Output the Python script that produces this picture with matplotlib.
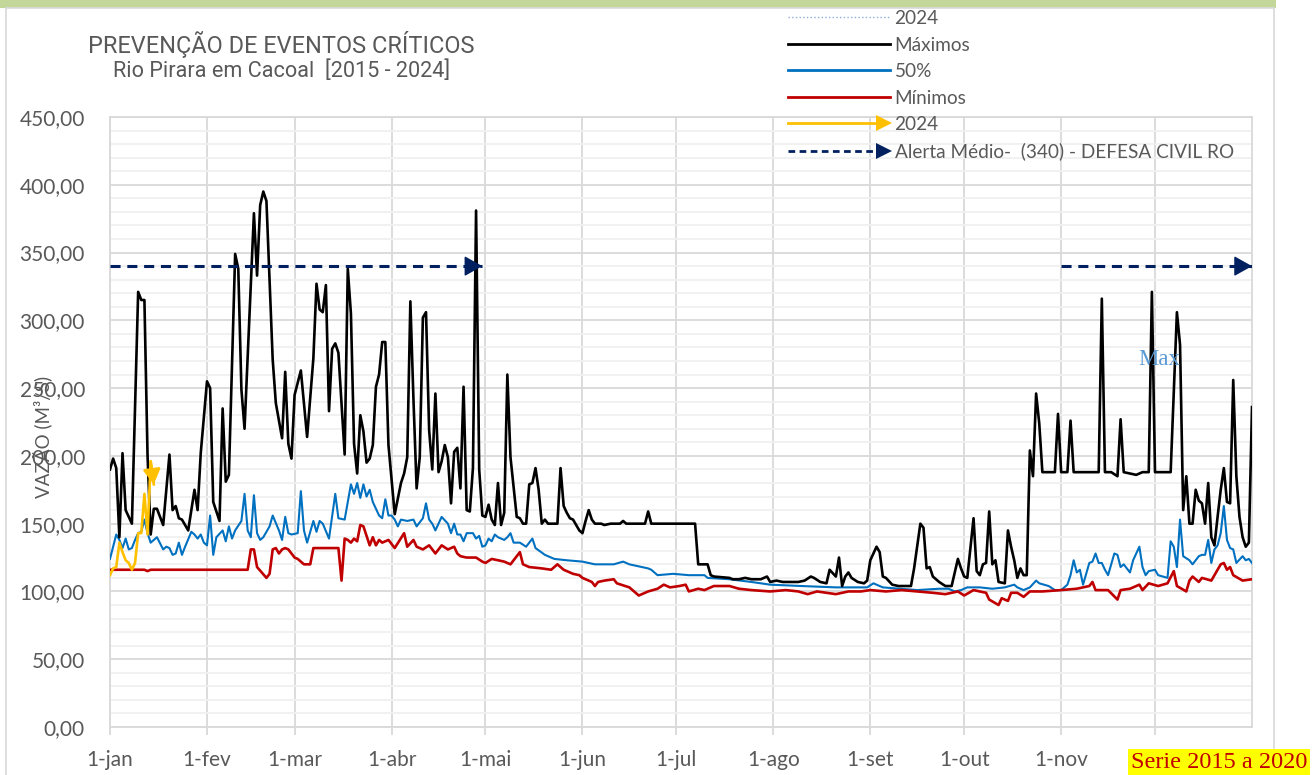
import matplotlib
matplotlib.use("Agg")
import matplotlib.pyplot as plt
from matplotlib.lines import Line2D
from matplotlib.legend_handler import HandlerBase
from matplotlib.patches import Rectangle
from matplotlib.ticker import FuncFormatter

plt.rcParams['font.family'] = ['Lato', 'DejaVu Sans']

# day of year (0 = 1-jan) and flow values
max_days = [0, 1, 2, 3, 4, 5, 7, 9, 10, 11, 12, 13, 14, 15, 17, 19, 20, 21, 22, 23, 25, 27, 28, 29,
            31, 32, 33, 35, 36, 37, 38, 40, 41, 42, 43, 46, 47, 48, 49, 50, 52, 53, 55, 56, 57, 58,
            59, 61, 63, 65, 66, 67, 68, 69, 70, 71, 72, 73, 75, 76, 77, 78, 79, 80, 81, 82, 83, 84,
            85, 86, 87, 88, 89, 91, 93, 94, 95, 96, 97, 98, 99, 100, 101, 102, 103, 104, 105, 106,
            107, 108, 109, 110, 111, 112, 113, 114, 115, 116, 117, 118, 119, 120, 121, 122, 123,
            124, 125, 126, 127, 128, 130, 131, 132, 133, 134, 135, 136, 137, 138, 139, 140, 143,
            144, 145, 146, 147, 148, 150, 151, 152, 153, 154, 155, 157, 158, 160, 163, 164, 165,
            171, 172, 173, 187, 188, 191, 192, 193, 198, 199, 201, 203, 205, 208, 210, 211, 213,
            215, 220, 222, 224, 225, 227, 229, 230, 232, 233, 234, 235, 236, 237, 239, 241, 242,
            243, 245, 246, 247, 248, 250, 252, 254, 256, 257, 259, 260, 261, 262, 263, 265, 267,
            269, 271, 272, 273, 274, 276, 277, 278, 279, 280, 281, 282, 283, 284, 286, 287, 288,
            289, 290, 291, 292, 293, 294, 295, 296, 297, 298, 302, 303, 304, 306, 307, 308, 316,
            317, 318, 320, 322, 323, 324, 326, 328, 330, 332, 333, 334, 339, 341, 342, 343, 344,
            345, 346, 347, 348, 349, 350, 351, 352, 353, 354, 355, 356, 357, 358, 359, 360, 361,
            362, 363, 364, 365]
max_vals = [190, 198, 191, 140, 202, 160, 150, 321, 315, 315, 200, 142, 161, 161, 149, 201, 160,
            163, 154, 153, 145, 175, 160, 202, 255, 250, 166, 152, 235, 181, 186, 349, 338, 249,
            220, 379, 333, 385, 395, 388, 271, 239, 213, 262, 209, 198, 245, 263, 214, 272, 327,
            308, 306, 326, 233, 279, 283, 276, 201, 338, 305, 209, 187, 230, 218, 195, 198, 208,
            251, 260, 284, 284, 208, 157, 180, 187, 199, 314, 241, 176, 199, 302, 306, 219, 190,
            246, 188, 196, 208, 199, 165, 203, 206, 176, 251, 160, 159, 191, 381, 190, 156, 155,
            164, 153, 149, 180, 149, 158, 260, 199, 155, 154, 150, 150, 179, 180, 191, 175, 150,
            153, 150, 150, 191, 163, 158, 154, 153, 145, 143, 152, 160, 153, 150, 150, 149, 150,
            150, 152, 150, 150, 159, 150, 150, 120, 120, 112, 111, 110, 109, 109, 110, 109, 109,
            111, 107, 108, 107, 107, 108, 111, 110, 107, 106, 116, 111, 125, 104, 111, 114, 110,
            107, 106, 108, 123, 133, 129, 111, 110, 105, 104, 104, 104, 117, 150, 147, 117, 118,
            111, 107, 104, 104, 124, 117, 111, 110, 154, 115, 112, 120, 121, 159, 120, 123, 107,
            106, 145, 133, 123, 110, 117, 112, 112, 204, 185, 246, 224, 188, 188, 231, 188, 188,
            226, 188, 188, 316, 188, 188, 185, 227, 188, 187, 186, 188, 188, 321, 188, 188, 306,
            282, 160, 185, 150, 150, 175, 167, 165, 150, 180, 140, 134, 155, 175, 191, 166, 165,
            256, 185, 155, 140, 133, 136, 236]

p50_days = [0, 1, 2, 3, 4, 5, 6, 7, 8, 9, 10, 11, 12, 13, 14, 15, 17, 18, 19, 20, 21, 22, 23, 24,
            26, 27, 28, 29, 30, 31, 32, 33, 34, 36, 37, 38, 39, 40, 42, 43, 44, 45, 46, 47, 48, 49,
            51, 52, 54, 55, 56, 57, 58, 60, 61, 62, 63, 65, 66, 67, 68, 70, 72, 73, 75, 77, 78, 79,
            80, 81, 82, 83, 84, 86, 87, 88, 89, 90, 91, 92, 93, 95, 97, 98, 100, 101, 102, 103, 104,
            105, 106, 108, 109, 110, 111, 112, 113, 114, 116, 117, 118, 119, 120, 121, 122, 123,
            124, 126, 127, 128, 129, 131, 133, 135, 136, 139, 142, 146, 151, 155, 161, 164, 166,
            172, 173, 175, 180, 185, 190, 191, 198, 205, 211, 221, 232, 242, 244, 247, 258, 265,
            268, 270, 272, 274, 278, 282, 286, 289, 290, 292, 294, 296, 297, 300, 302, 304, 306,
            307, 308, 309, 310, 311, 313, 314, 315, 316, 317, 318, 319, 321, 322, 323, 324, 326,
            327, 329, 330, 331, 332, 334, 335, 338, 339, 340, 341, 342, 343, 345, 346, 348, 349,
            350, 351, 352, 353, 354, 355, 356, 357, 358, 359, 360, 362, 363, 364, 365]
p50_vals = [124, 133, 142, 138, 132, 139, 131, 132, 138, 143, 144, 153, 143, 136, 138, 140, 131,
            133, 132, 127, 128, 136, 127, 133, 144, 142, 139, 142, 136, 134, 156, 127, 140, 145,
            137, 148, 139, 145, 152, 172, 145, 140, 171, 143, 138, 140, 148, 156, 145, 138, 155,
            143, 142, 143, 174, 145, 136, 152, 144, 152, 150, 139, 172, 154, 153, 179, 172, 180,
            169, 179, 170, 175, 166, 156, 154, 168, 156, 156, 153, 148, 153, 152, 153, 148, 154,
            165, 153, 150, 145, 150, 155, 150, 143, 150, 142, 142, 137, 143, 143, 139, 141, 133,
            134, 139, 137, 142, 140, 138, 140, 143, 136, 136, 133, 139, 132, 127, 124, 123, 122,
            120, 120, 122, 120, 117, 116, 112, 113, 112, 112, 110, 109, 107, 105, 104, 103, 103,
            106, 103, 101, 102, 102, 100, 101, 103, 103, 102, 103, 105, 103, 101, 103, 108, 106,
            104, 101, 101, 105, 112, 123, 114, 116, 105, 121, 122, 128, 121, 121, 116, 112, 128,
            127, 118, 120, 114, 123, 133, 118, 112, 115, 116, 112, 110, 137, 133, 118, 153, 126,
            123, 120, 126, 127, 127, 138, 121, 131, 134, 143, 163, 138, 132, 131, 121, 126, 123,
            124, 121]

min_days = [0, 11, 12, 13, 44, 45, 46, 47, 50, 51, 52, 53, 54, 55, 56, 57, 59, 60, 62, 64, 65, 73,
            74, 75, 76, 77, 78, 79, 80, 81, 83, 84, 85, 86, 87, 89, 91, 94, 95, 97, 98, 100, 102,
            104, 106, 108, 110, 111, 112, 114, 117, 119, 120, 122, 126, 128, 131, 132, 134, 138,
            141, 143, 145, 148, 150, 151, 154, 155, 156, 158, 161, 162, 166, 168, 169, 172, 175,
            177, 179, 182, 184, 185, 188, 190, 193, 198, 201, 205, 211, 216, 220, 223, 226, 232,
            236, 240, 243, 248, 253, 258, 263, 267, 271, 273, 276, 280, 281, 284, 285, 287, 288,
            290, 292, 294, 298, 304, 309, 313, 314, 315, 319, 322, 323, 326, 329, 330, 332, 335,
            338, 340, 341, 344, 345, 346, 348, 349, 352, 354, 355, 356, 357, 358, 359, 362, 365]
min_vals = [116, 116, 115, 116, 116, 131, 131, 118, 110, 113, 131, 132, 128, 131, 132, 131, 125,
            124, 120, 120, 132, 132, 108, 139, 138, 136, 139, 137, 149, 148, 134, 140, 134, 138,
            136, 138, 132, 143, 133, 138, 133, 131, 134, 128, 134, 131, 133, 128, 126, 125, 125,
            122, 121, 124, 122, 120, 129, 120, 118, 117, 116, 120, 116, 113, 112, 110, 107, 104,
            107, 108, 109, 106, 103, 99, 97, 100, 102, 105, 103, 104, 105, 100, 102, 101, 104, 104,
            102, 101, 100, 101, 100, 98, 100, 98, 100, 100, 101, 100, 101, 100, 99, 98, 100, 97,
            101, 99, 94, 90, 95, 93, 99, 99, 96, 100, 100, 101, 102, 104, 107, 101, 101, 94, 101,
            102, 105, 101, 106, 104, 106, 115, 104, 100, 108, 111, 107, 110, 108, 116, 120, 121,
            116, 118, 112, 108, 109]

y2024_days = [0, 1, 2, 3, 4, 5, 6, 7, 8, 9, 10, 11, 12, 13, 14]
y2024_vals = [112, 117, 118, 136, 129, 123, 121, 116, 121, 143, 143, 172, 142, 196, 179]

alert_level = 340
alert_spans = [(0, 119), (304, 365)]

month_days = [0, 31, 59, 90, 120, 151, 181, 212, 243, 273, 304, 334]
# the 1-dez label is hidden behind the "Serie" box in the original
month_labels = ['1-jan', '1-fev', '1-mar', '1-abr', '1-mai', '1-jun', '1-jul', '1-ago',
                '1-set', '1-out', '1-nov', '']

navy = '#002060'
gray_txt = '#595959'

fig = plt.figure(figsize=(13.15, 7.75), dpi=100)
W, H = 1315, 775
ax = fig.add_axes([110 / W, 48 / H, (1252 - 110) / W, (727 - 117) / H])

# frame and green bar of the original sheet
fig.patches.append(Rectangle((0, 1 - 8 / H), 1276 / W, 8 / H, transform=fig.transFigure,
                             facecolor='#C4D79B', edgecolor='none'))
fig.patches.append(Rectangle((6 / W, -0.01), (1274 - 6) / W, 1.01 - 8 / H, transform=fig.transFigure,
                             fill=False, edgecolor='#D9D9D9', lw=1.2))

ax.plot(max_days, max_vals, color='black', lw=1.9, zorder=4)
ax.plot(p50_days, p50_vals, color='#0070C0', lw=1.5, zorder=3)
ax.plot(min_days, min_vals, color='#C00000', lw=1.9, zorder=3)
ax.plot(y2024_days, y2024_vals, color='#FFC000', lw=1.9, zorder=5)
ax.annotate('', xy=(y2024_days[-1], y2024_vals[-1]), xytext=(y2024_days[-2], y2024_vals[-2]),
            arrowprops=dict(arrowstyle='-|>,head_length=0.6,head_width=0.35', color='#FFC000',
                            lw=1.9, shrinkA=0, shrinkB=0, mutation_scale=15), zorder=5)

for s, e in alert_spans:
    ax.plot([s, e], [alert_level, alert_level], color=navy, lw=2.2, dashes=(3.3, 2.2), zorder=6)
    ax.annotate('', xy=(e, alert_level), xytext=(e - 0.5, alert_level),
                arrowprops=dict(arrowstyle='-|>,head_length=0.75,head_width=0.42', color=navy,
                                lw=1, shrinkA=0, shrinkB=0, mutation_scale=15),
                zorder=6, annotation_clip=False)

ax.text(335.5, 271, 'Max', ha='center', va='center', fontsize=16.5, color='#5B9BD5',
        family='Liberation Serif', zorder=7)

ax.set_xlim(0, 365)
ax.set_ylim(0, 450)
ax.set_yticks(range(0, 451, 50))
ax.set_yticks(range(0, 451, 10), minor=True)
ax.yaxis.set_major_formatter(FuncFormatter(lambda v, p: f'{v:.2f}'.replace('.', ',')))
ax.set_xticks(month_days)
ax.set_xticklabels(month_labels)
ax.grid(which='major', axis='both', color='#D9D9D9', lw=1.3)
ax.grid(which='minor', axis='y', color='#F0F0F0', lw=1.3)
ax.set_axisbelow(True)
ax.tick_params(axis='y', which='both', length=0, pad=18, labelsize=15, labelcolor=gray_txt)
ax.tick_params(axis='x', length=6, width=1.3, color='#D9D9D9', pad=10.5, labelsize=15,
               labelcolor=gray_txt)
for sp in ax.spines.values():
    sp.set_color('#D9D9D9')
    sp.set_linewidth(1.3)

ax.text(42 / W, 1 - 437 / H, 'VAZÃO (M³/S)', transform=fig.transFigure, rotation=90,
        ha='center', va='center', fontsize=13.5, color=gray_txt, zorder=0.1, clip_on=False)

fig.text(281 / W, 1 - 45 / H, 'PREVENÇÃO DE EVENTOS CRÍTICOS', ha='center', va='center',
         fontsize=16.9, color=gray_txt, family='Roboto')
fig.text(282 / W, 1 - 71 / H, 'Rio Pirara em Cacoal  [2015 - 2024]', ha='center', va='center',
         fontsize=15.6, color=gray_txt, family='Roboto')

fig.text(1131 / W, 1 - 762 / H, 'Serie 2015 a 2020', ha='left', va='center', fontsize=17.5,
         color='#C00000', family='Liberation Serif',
         bbox=dict(facecolor='#FFFF00', edgecolor='none', pad=2), zorder=10)


class ArrowLineHandler(HandlerBase):
    def create_artists(self, legend, orig_handle, xdescent, ydescent, width, height, fontsize, trans):
        y = height / 2 - ydescent
        x0, x1 = -xdescent, width - xdescent
        line = Line2D([x0, x1 - 6], [y, y], color=orig_handle.get_color(),
                      lw=orig_handle.get_linewidth(), linestyle=orig_handle.get_linestyle(),
                      transform=trans)
        if orig_handle.get_linestyle() == '--':
            line.set_dashes((2.4, 1.6))
        head = Line2D([x1 - 4], [y], marker='>', markersize=11, color=orig_handle.get_color(),
                      markeredgewidth=0, transform=trans)
        return [line, head]


handles = [
    Line2D([], [], color='#8FAADC', lw=1, linestyle=':'),
    Line2D([], [], color='black', lw=2),
    Line2D([], [], color='#0070C0', lw=2),
    Line2D([], [], color='#C00000', lw=2),
    Line2D([], [], color='#FFC000', lw=2),
    Line2D([], [], color=navy, lw=2, linestyle='--'),
]
labels = ['2024', 'Máximos', '50%', 'Mínimos', '2024', 'Alerta Médio-  (340) - DEFESA CIVIL RO']
fig.legend(handles, labels, loc='upper left', bbox_to_anchor=(788 / W, 1 - 10 / H),
           frameon=False, fontsize=13.7, labelcolor=gray_txt, handlelength=5.35,
           handletextpad=0.25, labelspacing=0.5, borderpad=0, borderaxespad=0,
           handler_map={handles[4]: ArrowLineHandler(), handles[5]: ArrowLineHandler()})

fig.savefig('out.png', dpi=100)
